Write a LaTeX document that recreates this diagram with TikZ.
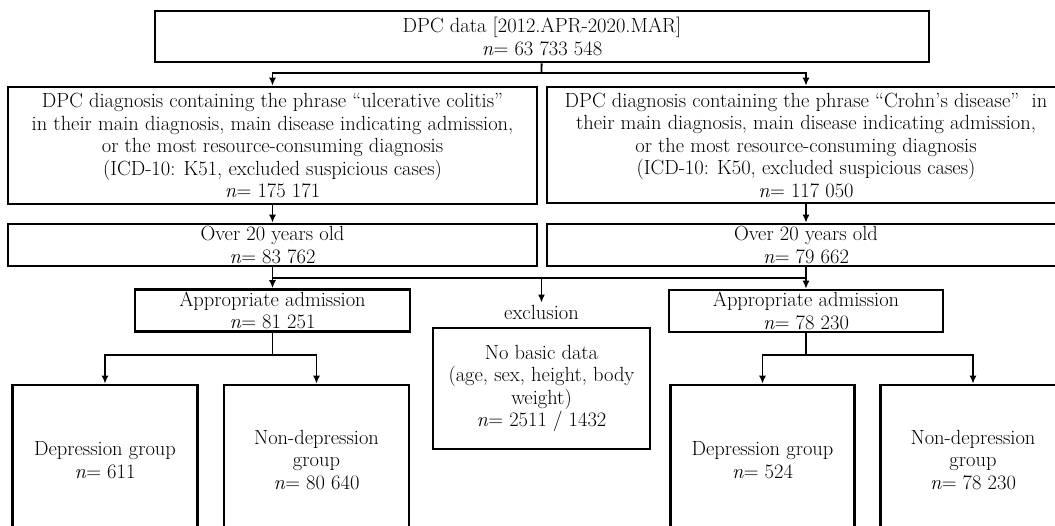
\documentclass[tikz,border=0pt]{standalone}
\usetikzlibrary{arrows.meta}

\tikzset{
  box/.style={draw,line width=2.6pt,align=center,inner sep=0pt},
  arr/.style={line width=1.8pt,-{Latex[length=8pt,width=7pt]}},
  lin/.style={line width=1.8pt}
}

\begin{document}
\begin{tikzpicture}[x=1pt,y=-1pt,font=\fontsize{20.5}{22.5}\selectfont]

        \useasboundingbox (0,0) rectangle (1055,525);
        \clip (0,0) rectangle (1055,525);

        \begin{scope}[every node/.style={box}]
          \node[minimum width=774pt,minimum height=51pt] (dpc)   at (542,36.5)  {DPC data [2012.APR-2020.MAR]\\\textit{n}= 63 733 548};
          \node[minimum width=529pt,minimum height=117pt] (uc)   at (272.5,145.5) {DPC diagnosis containing the phrase ``ulcerative colitis''\\in their main diagnosis, main disease indicating admission,\\or the most resource-consuming diagnosis\\(ICD-10: K51, excluded suspicious cases)\\\textit{n}= 175 171};
          \node[minimum width=518pt,minimum height=116pt] (cd)   at (806,145)   {DPC diagnosis containing the phrase ``Crohn’s disease''\ \ in\\their main diagnosis, main disease indicating admission,\\or the most resource-consuming diagnosis\\(ICD-10: K50, excluded suspicious cases)\\\textit{n}= 117 050};
          \node[minimum width=529pt,minimum height=42pt] (oldL)  at (272.5,245) {Over 20 years old\\\textit{n}= 83 762};
          \node[minimum width=518pt,minimum height=42pt] (oldR)  at (806,245)   {Over 20 years old\\\textit{n}= 79 662};
          \node[minimum width=275pt,minimum height=42pt] (admL)  at (272.5,310.5) {Appropriate admission\\\textit{n}= 81 251};
          \node[minimum width=274pt,minimum height=42pt] (admR)  at (806,311)   {Appropriate admission\\\textit{n}= 78 230};
          \node[minimum width=217pt,minimum height=121pt] (excl) at (541.5,388.5) {No basic data\\(age, sex, height, body\\weight)\\\textit{n}= 2511 / 1432};
          \node[minimum width=185pt,minimum height=150pt] (depL) at (105,460)   {Depression group\\\textit{n}= 611};
          \node[minimum width=185pt,minimum height=150pt] (nonL) at (316.5,460) {Non-depression\\group\\\textit{n}= 80 640};
          \node[minimum width=184pt,minimum height=150pt] (depR) at (762.5,460) {Depression group\\\textit{n}= 524};
          \node[minimum width=185pt,minimum height=150pt] (nonR) at (973,460)   {Non-depression\\group\\\textit{n}= 78 230};
        \end{scope}

        \node[inner sep=2pt] (exlab) at (541.5,312) {exclusion};

        \coordinate (j1) at (541.5,73);
        \coordinate (j2) at (541.5,278);
        \coordinate (j3) at (272.5,355);
        \coordinate (j4) at (806,355);

        \draw[lin] (dpc) -- (j1);
        \draw[arr] (j1) -| (uc);
        \draw[arr] (j1) -| (cd);
        \draw[arr] (uc) -- (oldL);
        \draw[arr] (cd) -- (oldR);
        \draw[arr] (oldL) -- (admL);
        \draw[arr] (oldR) -- (admR);
        \draw[lin] (oldL |- j2) -- (oldR |- j2);
        \draw[arr] (j2) -- (exlab);
        \draw[lin] (admL) -- (j3);
        \draw[arr] (j3) -| (depL);
        \draw[arr] (j3) -| (nonL);
        \draw[lin] (admR) -- (j4);
        \draw[arr] (j4) -| (depR);
        \draw[arr] (j4) -| (nonR);

\end{tikzpicture}
\end{document}
